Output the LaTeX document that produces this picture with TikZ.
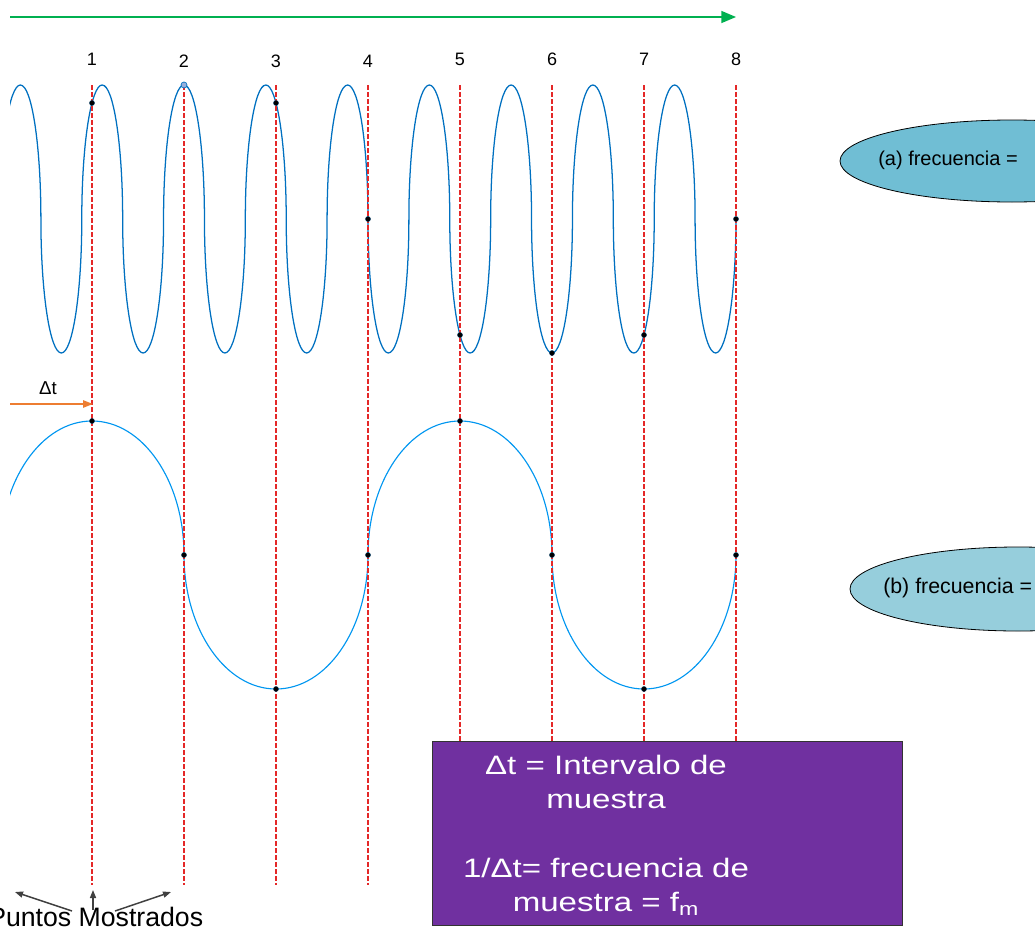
\documentclass[tikz,border=0pt]{standalone}
\usepackage{fontspec}
\setmainfont{Liberation Sans}
\usetikzlibrary{arrows.meta,shapes.geometric}
\definecolor{topblue}{RGB}{0,112,192}
\definecolor{botblue}{RGB}{0,150,240}
\definecolor{sampred}{RGB}{228,40,40}
\definecolor{arrgreen}{RGB}{0,176,80}
\definecolor{dtorange}{RGB}{237,125,49}
\definecolor{ellA}{RGB}{112,190,212}
\definecolor{ellB}{RGB}{150,206,220}
\definecolor{boxpurple}{RGB}{112,48,160}
\definecolor{ptgray}{RGB}{64,64,64}
\definecolor{peakfill}{RGB}{150,175,220}
\begin{document}
\begin{tikzpicture}[x=0.75pt,y=-0.75pt,
  wavetop/.style={topblue,line width=0.95pt},
  wavebot/.style={botblue,line width=0.85pt},
  sampline/.style={sampred,line width=0.9pt,dash pattern=on 3.75pt off 1.5pt},
  sampdot/.style={circle,fill=black,draw=topblue!50!black,line width=0.3pt,inner sep=0pt,minimum size=3.8pt},
  peakdot/.style={circle,fill=peakfill,draw=topblue,line width=0.5pt,inner sep=0pt,minimum size=4.5pt},
  numlabel/.style={font=\fontsize{13.5}{15}\selectfont,inner sep=0pt},
  greenarrow/.style={arrgreen,line width=1.1pt,-{Triangle[length=11pt,width=9pt]}},
  orangearrow/.style={dtorange,line width=1.2pt,-{Triangle[length=7.5pt,width=5.5pt]}},
  grayarrow/.style={ptgray,line width=1.1pt,-{Triangle[length=6pt,width=4.5pt]}},
  freqell/.style={ellipse,draw=black,line width=0.6pt,inner sep=0pt},
  freqtext/.style={anchor=west,inner sep=0pt},
  infobox/.style={draw=black!80,line width=0.6pt,fill=boxpurple,anchor=north west,inner sep=0pt,minimum width=352.5pt,minimum height=138pt},
  infotext/.style={white,anchor=base,inner sep=0pt,font=\fontsize{20}{22}\selectfont}
]
\useasboundingbox (0,0) rectangle (1035,928);
\clip (0,0) rectangle (1035,928);

% time axis arrow
\coordinate (gs) at (10,17);
\coordinate (ge) at (736,17);
\draw[greenarrow] (gs) -- (ge);

% sample numbers
\node[numlabel] (n1) at (92,59.5) {1};
\node[numlabel] (n2) at (184,61) {2};
\node[numlabel] (n3) at (276,61) {3};
\node[numlabel] (n4) at (368,61) {4};
\node[numlabel] (n5) at (460,59.5) {5};
\node[numlabel] (n6) at (552,59.5) {6};
\node[numlabel] (n7) at (644,59.5) {7};
\node[numlabel] (n8) at (736,59.5) {8};

% waves
\begin{scope}
\clip (10,0) rectangle (1035,928);
\draw[wavetop] (0,219) foreach \i in {1,...,9} {
  arc[start angle=180,end angle=360,x radius=20.444,y radius=134]
  arc[start angle=180,end angle=0,x radius=20.444,y radius=134] };
\draw[wavebot] (0,555) foreach \i in {1,2} {
  arc[start angle=180,end angle=360,x radius=92,y radius=134]
  arc[start angle=180,end angle=0,x radius=92,y radius=134] };
\end{scope}

% sampling lines
\foreach \k in {1,...,8} {
  \draw[sampline] ({92*\k},85) -- ({92*\k},885);
}

% sample points, top wave
\node[sampdot] (a1) at (92,103) {};
\node[peakdot] (a2) at (184,85) {};
\node[sampdot] (a3) at (276,103) {};
\node[sampdot] (a4) at (368,219) {};
\node[sampdot] (a5) at (460,335) {};
\node[sampdot] (a6) at (552,353) {};
\node[sampdot] (a7) at (644,335) {};
\node[sampdot] (a8) at (736,219) {};
% sample points, bottom wave
\node[sampdot] (b1) at (92,421) {};
\node[sampdot] (b2) at (184,555) {};
\node[sampdot] (b3) at (276,689) {};
\node[sampdot] (b4) at (368,555) {};
\node[sampdot] (b5) at (460,421) {};
\node[sampdot] (b6) at (552,555) {};
\node[sampdot] (b7) at (644,689) {};
\node[sampdot] (b8) at (736,555) {};

% delta t
\node[font=\fontsize{14}{16}\selectfont,inner sep=0pt] (dtl) at (48,388) {Δt};
\coordinate (dts) at (10,404);
\coordinate (dte) at (93,404);
\draw[orangearrow] (dts) -- (dte);

% frequency ellipses
\node[freqell,fill=ellA,minimum width=258pt,minimum height=61.5pt] (ea) at (1012,161) {};
\node[freqtext,font=\fontsize{15}{17}\selectfont] (ta) at (878,160) {(a) frecuencia =};
\node[freqell,fill=ellB,minimum width=252pt,minimum height=63pt] (eb) at (1018,589) {};
\node[freqtext,font=\fontsize{16}{18}\selectfont] (tb) at (883,588) {(b) frecuencia =};

% info box
\node[infobox] (box) at (432,741) {};
\node[infotext] (l1) at (606,774) {\scalebox{1.24}[1]{Δt = Intervalo de}};
\node[infotext] (l2) at (606,808) {\scalebox{1.24}[1]{muestra}};
\node[infotext] (l3) at (606,877) {\scalebox{1.24}[1]{1/Δt= frecuencia de}};
\node[infotext] (l4) at (606,911) {\scalebox{1.24}[1]{muestra = f\textsubscript{m}}};

% sampled points label
\node[anchor=base west,font=\fontsize{20}{24}\selectfont,inner sep=0pt] (pm) at (-12,926) {Puntos Mostrados};
\coordinate (p1t) at (72,911);
\coordinate (p1h) at (15,892);
\coordinate (p2t) at (93,910);
\coordinate (p2h) at (93,890);
\coordinate (p3t) at (115,911);
\coordinate (p3h) at (171,892);
\draw[grayarrow] (p1t) -- (p1h);
\draw[grayarrow] (p2t) -- (p2h);
\draw[grayarrow] (p3t) -- (p3h);
\end{tikzpicture}
\end{document}
